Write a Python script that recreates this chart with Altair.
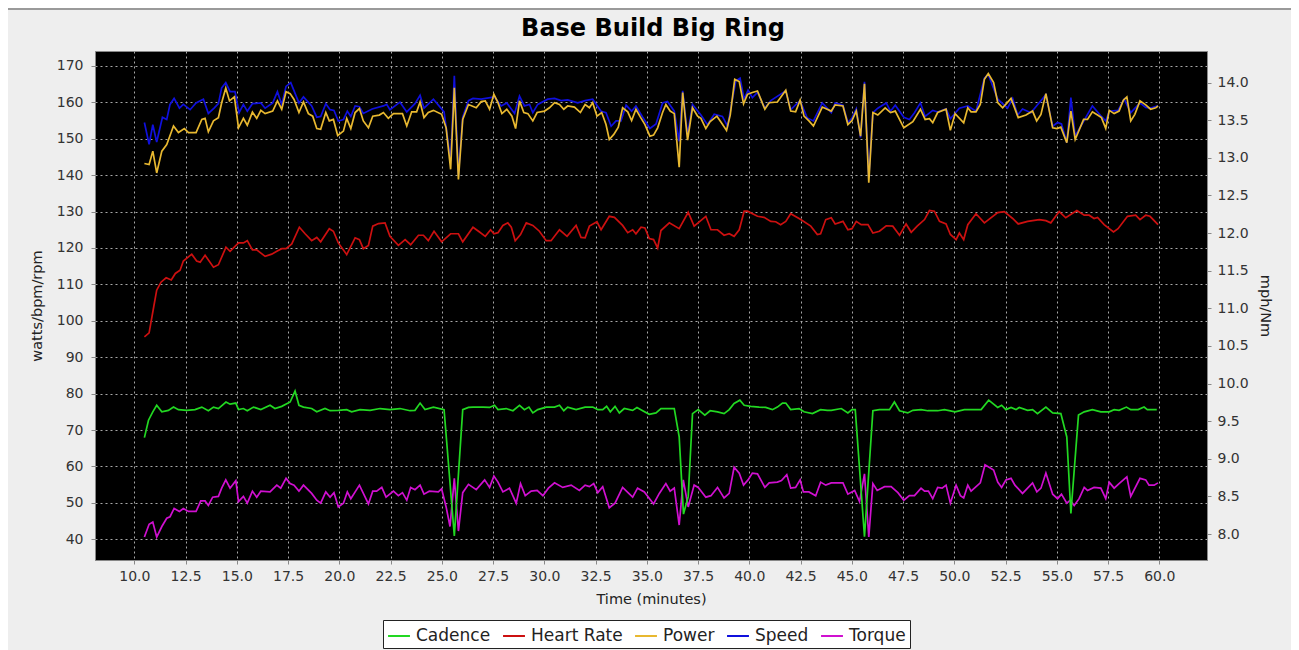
import altair as alt
import pandas as pd

# ---------------- data ----------------
chart_title = "Base Build Big Ring"
series_names = ["Cadence", "Heart Rate", "Power", "Speed", "Torque"]
series_colors = ["#22d822", "#cc1010", "#e8b830", "#1010dd", "#d010d0"]

power_t = [10.49, 10.72, 10.90, 11.09, 11.34, 11.58, 11.91, 12.15, 12.44, 12.64, 13.01, 13.29, 13.45, 13.61, 13.86, 14.10, 14.26, 14.46, 14.64, 14.88,
           15.08, 15.32, 15.51, 15.76, 15.97, 16.17, 16.38, 16.75, 16.98, 17.19, 17.40, 17.60, 17.79, 18.03, 18.25, 18.49, 18.70, 18.90, 19.09, 19.34,
           19.51, 19.71, 19.92, 20.20, 20.36, 20.56, 20.77, 20.98, 21.17, 21.42, 21.63, 21.95, 22.15, 22.39, 22.64, 23.08, 23.29, 23.53, 23.77, 23.94,
           24.13, 24.34, 24.59, 24.99, 25.21, 25.43, 25.61, 25.81, 26.02, 26.30,
           26.68, 26.92, 27.12, 27.33, 27.54, 27.74, 27.93, 28.17, 28.42, 28.60, 28.79, 29.00, 29.20, 29.44, 29.65, 30.01, 30.25, 30.50, 30.74, 30.95,
           31.14, 31.47, 31.76, 31.99, 32.20, 32.36, 32.57, 32.80, 33.01, 33.17, 33.39, 33.61, 33.82, 34.07, 34.26, 34.47, 34.68, 34.91, 35.15, 35.33,
           35.53, 35.77, 35.93, 36.14, 36.34, 36.58, 36.75, 36.99, 37.23, 37.48, 37.64, 37.88, 38.09, 38.42, 38.64, 38.89, 39.07, 39.29, 39.51, 39.72,
           39.91, 40.15, 40.40, 40.76, 40.97, 41.37, 41.78, 42.02, 42.26, 42.48, 42.67, 42.91, 43.13, 43.56,
           44.00, 44.19, 44.57, 44.81, 45.01, 45.22, 45.43, 45.62, 45.83, 46.03, 46.27, 46.63, 46.89, 47.12, 47.54, 47.98, 48.35, 48.58, 48.79, 48.95,
           49.19, 49.60, 49.81, 50.04, 50.46, 50.66, 50.82, 51.06, 51.27, 51.47, 51.66, 51.92, 52.12, 52.36, 52.77, 53.12, 53.50, 53.82, 54.02, 54.23,
           54.47, 54.80, 55.01, 55.20, 55.49, 55.69, 55.90, 56.31, 56.50, 56.74, 56.99, 57.18, 57.39, 57.56, 57.80, 58.04, 58.25, 58.42, 58.61, 58.81,
           59.06, 59.34, 59.58, 59.83, 59.94]
power_v = [143.2, 142.9, 146.6, 140.6, 146.6, 148.4, 153.5, 151.7, 152.8, 151.7, 151.7, 155.3, 155.6, 151.9, 154.9, 155.8, 159.9, 163.9, 160.4, 161.5,
           153.0, 155.6, 153.7, 157.3, 155.6, 157.8, 156.9, 157.6, 160.4, 158.1, 162.9, 162.4, 160.8, 157.2, 160.1, 156.9, 156.2, 152.8, 152.6, 157.2,
           154.9, 155.3, 150.9, 152.1, 155.6, 152.8, 157.2, 158.3, 154.9, 153.0, 156.2, 156.5, 157.2, 155.6, 156.9, 156.9, 153.5, 157.4, 157.4, 160.1,
           155.8, 157.2, 157.8, 156.7, 153.0, 141.6, 164.0, 138.8, 155.3, 159.4,
           158.5, 160.2, 160.4, 158.1, 162.2, 159.9, 156.9, 158.1, 156.2, 152.8, 160.4, 157.2, 156.9, 154.9, 157.2, 157.6, 158.5, 159.9, 159.4, 158.1,
           159.0, 158.7, 157.2, 159.4, 158.5, 159.9, 156.2, 157.2, 153.9, 149.8, 151.2, 153.2, 158.5, 157.4, 155.0, 158.1, 156.0, 153.9, 150.7, 151.0,
           153.0, 157.2, 159.4, 157.6, 156.9, 142.2, 162.7, 149.6, 158.5, 156.2, 155.6, 152.8, 154.7, 156.2, 154.4, 152.3, 156.5, 166.3, 165.7, 159.6,
           162.2, 162.7, 163.1, 158.1, 159.9, 160.1, 163.3, 157.6, 157.4, 160.6, 156.2, 154.9, 153.5, 158.7,
           157.6, 159.3, 159.0, 153.9, 155.0, 157.6, 150.7, 165.1, 137.9, 157.2, 156.5, 158.5, 157.2, 157.6, 153.0, 154.7, 158.1, 155.3, 155.5, 154.4,
           157.2, 158.1, 152.3, 156.9, 154.4, 158.5, 157.4, 157.4, 159.4, 166.3, 167.9, 165.4, 159.9, 158.5, 161.1, 155.8, 156.5, 157.6, 154.9, 156.7,
           162.4, 153.0, 152.8, 153.2, 148.9, 157.6, 149.8, 155.3, 155.3, 157.4, 156.5, 155.8, 152.8, 157.8, 156.9, 157.6, 160.6, 161.5, 154.9, 156.7,
           160.4, 159.3, 158.1, 158.5, 159.0]

speed_t = [10.49, 10.72, 10.90, 11.09, 11.37, 11.58, 11.74, 11.94, 12.20, 12.39, 12.72, 13.01, 13.37, 13.61, 13.89, 14.10, 14.26, 14.46, 14.67, 14.91,
           15.11, 15.32, 15.51, 15.76, 16.17, 16.38, 16.75, 16.98, 17.19, 17.40, 17.63, 18.03, 18.25, 18.65, 18.90, 19.09, 19.34, 19.55, 19.74, 19.95,
           20.20, 20.39, 20.56, 20.77, 20.98, 21.17, 21.60, 22.15, 22.31, 22.47, 22.96, 23.29, 23.69, 23.94, 24.13, 24.59, 25.11, 25.43, 25.61, 25.81,
           26.02, 26.30,
           26.52, 26.92, 27.57, 27.90, 28.17, 28.55, 28.79, 29.03, 29.28, 29.44, 29.68, 30.17, 30.50, 30.82, 31.14, 31.63, 31.99, 32.36, 32.77, 33.01,
           33.26, 33.50, 33.74, 33.99, 34.26, 34.47, 34.80, 35.15, 35.45, 35.77, 36.01, 36.34, 36.58, 36.75, 36.99, 37.23, 37.64, 37.96, 38.29, 38.69,
           38.94, 39.34, 39.55, 39.75, 39.94, 40.15, 40.40, 40.76, 41.05, 41.78, 42.02, 42.48, 42.83, 43.13, 43.56,
           44.00, 44.19, 44.57, 44.81, 45.01, 45.22, 45.43, 45.62, 45.83, 46.03, 46.27, 46.68, 46.89, 47.12, 47.54, 47.81, 48.06, 48.35, 48.58, 48.95,
           49.19, 49.60, 49.81, 50.25, 50.66, 51.06, 51.47, 51.66, 52.12, 52.60, 52.85, 53.09, 53.33, 53.74, 54.47, 54.80, 55.04, 55.23, 55.49, 55.69,
           55.90, 56.34, 56.74, 57.18, 57.39, 57.56, 57.99, 58.29, 58.61, 59.06, 59.34, 59.58, 59.94]
speed_v = [13.47, 13.18, 13.44, 13.21, 13.54, 13.51, 13.71, 13.79, 13.66, 13.71, 13.64, 13.73, 13.78, 13.59, 13.66, 13.72, 13.93, 14.00, 13.88, 13.88,
           13.60, 13.71, 13.62, 13.72, 13.73, 13.66, 13.73, 13.88, 13.71, 13.95, 14.00, 13.73, 13.81, 13.69, 13.54, 13.55, 13.72, 13.64, 13.63, 13.49,
           13.51, 13.62, 13.55, 13.69, 13.68, 13.59, 13.65, 13.69, 13.71, 13.64, 13.74, 13.61, 13.72, 13.83, 13.66, 13.78, 13.61, 12.96, 14.09, 12.78,
           13.54, 13.76,
           13.79, 13.78, 13.81, 13.69, 13.73, 13.59, 13.82, 13.69, 13.71, 13.60, 13.71, 13.78, 13.79, 13.76, 13.77, 13.73, 13.76, 13.78, 13.62, 13.60,
           13.42, 13.49, 13.49, 13.70, 13.62, 13.69, 13.54, 13.39, 13.45, 13.73, 13.75, 13.62, 13.22, 13.89, 13.31, 13.71, 13.57, 13.44, 13.58, 13.55,
           13.42, 14.02, 14.06, 13.78, 13.90, 13.80, 13.87, 13.66, 13.76, 13.89, 13.64, 13.76, 13.53, 13.49, 13.73,
           13.60, 13.73, 13.70, 13.47, 13.53, 13.65, 13.27, 14.01, 12.74, 13.60, 13.66, 13.73, 13.62, 13.70, 13.54, 13.51, 13.60, 13.73, 13.55, 13.63,
           13.61, 13.65, 13.52, 13.66, 13.69, 13.62, 14.06, 14.11, 13.78, 13.66, 13.79, 13.57, 13.65, 13.60, 13.84, 13.42, 13.47, 13.45, 13.20, 13.80,
           13.29, 13.50, 13.69, 13.55, 13.49, 13.62, 13.63, 13.78, 13.60, 13.73, 13.67, 13.66, 13.69]

hr_t = [10.49, 10.72, 10.95, 11.09, 11.30, 11.55, 11.80, 12.00, 12.23, 12.39, 12.80, 13.04, 13.21, 13.45, 13.86, 14.10, 14.47, 14.67, 15.08, 15.32,
        15.51, 15.76, 15.97, 16.38, 16.70, 16.95, 17.19, 17.40, 17.68, 18.05, 18.33, 18.65, 18.90, 19.09, 19.51, 19.71, 19.95, 20.36, 20.77, 20.98,
        21.17, 21.42, 21.63, 21.91, 22.23, 22.47, 22.88, 23.21, 23.48, 23.86, 24.10, 24.34, 24.62, 24.99, 25.43, 25.81, 26.02,
        26.52, 26.84, 27.12, 27.38, 27.54, 27.74, 27.98, 28.22, 28.39, 28.58, 28.84, 29.12, 29.44, 29.76, 30.09, 30.33, 30.74, 31.11, 31.55, 31.79,
        31.99, 32.20, 32.57, 32.77, 33.17, 33.42, 33.82, 34.07, 34.31, 34.47, 34.72, 34.91, 35.12, 35.33, 35.53, 35.69, 36.10, 36.58, 37.02, 37.31,
        37.88, 38.13, 38.45, 38.77, 39.02, 39.26, 39.51, 39.75, 39.91, 40.40, 40.72, 41.05, 41.29, 41.53, 41.78, 42.02, 42.51, 43.00, 43.32, 43.48,
        43.73,
        44.00, 44.19, 44.57, 44.81, 45.01, 45.22, 45.46, 45.79, 46.03, 46.35, 46.68, 47.00, 47.33, 47.65, 47.90, 48.19, 48.55, 48.79, 49.03, 49.28,
        49.60, 49.81, 50.09, 50.25, 50.46, 50.66, 51.06, 51.47, 52.12, 52.44, 52.85, 53.12, 53.58, 54.15, 54.47, 54.71, 55.12, 55.44, 55.98, 56.34,
        56.58, 56.82, 56.99, 57.31, 57.77, 57.99, 58.45, 58.85, 59.06, 59.34, 59.55, 59.94]
hr_v = [95.6, 96.7, 104.0, 108.4, 110.6, 111.8, 111.2, 113.0, 113.9, 116.4, 118.3, 116.4, 116.1, 118.0, 114.7, 115.4, 120.2, 119.1, 121.4, 121.4,
        122.0, 119.5, 119.5, 117.7, 118.3, 119.1, 119.8, 119.8, 121.1, 125.7, 123.9, 122.0, 122.9, 121.7, 125.3, 124.6, 121.4, 118.2, 122.8, 122.3,
        119.8, 120.7, 126.0, 126.7, 126.9, 123.2, 120.7, 122.3, 120.9, 123.5, 123.5, 122.0, 124.6, 121.7, 123.9, 123.9, 121.7,
        125.7, 124.4, 123.2, 125.0, 123.9, 124.2, 126.2, 126.9, 125.7, 122.0, 123.7, 126.9, 126.2, 124.6, 122.0, 122.0, 125.0, 123.2, 126.2, 122.9,
        122.8, 126.0, 127.2, 125.0, 128.7, 128.4, 126.2, 124.2, 125.0, 123.9, 125.7, 125.5, 122.6, 122.3, 120.0, 124.8, 126.9, 125.3, 129.8, 126.0,
        128.7, 125.0, 125.0, 123.5, 123.9, 123.2, 125.0, 130.1, 130.1, 128.7, 128.4, 127.3, 127.2, 126.4, 127.3, 129.4, 127.8, 126.0, 123.7, 123.9,
        127.8,
        128.3, 126.6, 127.3, 125.0, 125.3, 127.3, 126.4, 126.4, 124.1, 124.6, 126.1, 126.0, 123.5, 126.6, 124.3, 126.0, 127.8, 130.3, 130.1, 127.3,
        126.6, 123.7, 122.3, 124.1, 122.3, 126.4, 129.4, 126.9, 129.7, 130.0, 128.1, 126.6, 127.3, 127.8, 127.5, 126.9, 130.0, 128.3, 130.3, 129.0,
        129.0, 128.1, 128.4, 126.4, 124.4, 125.3, 128.7, 129.0, 127.8, 129.0, 128.7, 126.4]

cad_t = [10.49, 10.69, 10.90, 11.09, 11.34, 11.66, 11.91, 12.15, 12.56, 12.96, 13.29, 13.61, 13.86, 14.10, 14.47, 14.67, 14.95, 15.08, 15.32, 15.51,
         15.81, 16.17, 16.62, 16.86, 17.19, 17.60, 17.84, 18.03, 18.25, 18.65, 18.90, 19.30, 19.55, 19.95, 20.36, 20.60, 21.01, 21.50, 21.99, 22.47,
         22.96, 23.45, 23.69, 23.94, 24.18, 24.59, 25.11, 25.61, 26.02, 26.30,
         26.52, 27.01, 27.33, 27.57, 27.74, 28.14, 28.47, 28.79, 29.03, 29.25, 29.44, 29.68, 30.09, 30.50, 30.74, 30.95, 31.14, 31.55, 31.99, 32.36,
         32.61, 32.85, 33.04, 33.22, 33.45, 33.66, 33.90, 34.31, 34.52, 34.80, 35.12, 35.45, 35.69, 36.34, 36.58, 36.79, 37.02, 37.23, 37.51, 37.83,
         38.09, 38.45, 38.77, 39.02, 39.26, 39.54, 39.75, 40.07, 40.48, 40.80, 41.13, 41.37, 41.62, 41.78, 42.02, 42.43, 42.67, 43.08, 43.48, 43.81,
         44.00, 44.49, 44.81, 45.01, 45.17, 45.62, 46.03, 46.35, 46.84, 47.08, 47.33, 47.73, 47.98, 48.38, 48.71, 49.19, 49.52, 50.04, 50.49, 51.31,
         51.68, 52.12, 52.31, 52.52, 52.77, 53.01, 53.17, 53.58, 53.82, 54.06, 54.47, 54.80, 55.20, 55.49, 55.69, 56.06, 56.34, 56.74, 57.15, 57.56,
         57.80, 58.04, 58.40, 58.61, 58.97, 59.26, 59.42, 59.88]
cad_v = [67.9, 72.7, 75.0, 76.8, 75.0, 75.4, 76.3, 75.6, 75.4, 75.6, 76.3, 75.3, 76.3, 75.9, 77.7, 77.1, 77.4, 75.6, 75.9, 75.3,
         76.3, 75.6, 76.8, 75.9, 76.5, 77.7, 80.7, 76.8, 76.3, 75.9, 75.0, 75.9, 75.3, 75.4, 75.6, 75.0, 75.6, 75.4, 75.9, 75.6,
         75.9, 75.3, 75.4, 77.4, 75.6, 76.3, 75.6, 40.9, 75.6, 76.2,
         76.3, 76.3, 76.2, 76.8, 75.6, 75.9, 75.3, 76.8, 75.6, 76.3, 74.7, 75.6, 76.3, 76.3, 76.8, 75.3, 76.3, 75.6, 76.3, 76.3,
         75.6, 75.6, 76.5, 75.0, 76.5, 74.7, 75.9, 75.4, 76.2, 75.3, 74.3, 74.7, 75.9, 75.9, 68.1, 46.9, 51.7, 74.5, 75.6, 74.1,
         75.3, 75.0, 74.5, 75.6, 77.3, 78.2, 76.8, 76.5, 76.3, 76.2, 75.6, 76.3, 77.4, 77.4, 75.6, 75.9, 75.0, 74.5, 75.6, 75.4,
         75.4, 75.9, 74.7, 75.6, 75.6, 40.7, 75.3, 75.6, 75.6, 77.7, 75.3, 74.7, 75.4, 75.6, 75.3, 75.3, 75.6, 75.0, 75.6, 75.6,
         78.2, 76.2, 76.8, 75.6, 76.2, 75.6, 76.2, 75.4, 75.6, 74.5, 76.3, 74.7, 74.5, 68.1, 47.1, 74.1, 75.0, 75.6, 75.0, 75.0,
         75.6, 75.4, 76.3, 75.6, 75.6, 76.3, 75.6, 75.6]

torque_t = [10.49, 10.72, 10.90, 11.09, 11.34, 11.58, 11.74, 11.94, 12.20, 12.39, 12.64, 13.01, 13.24, 13.45, 13.61, 13.82, 14.10, 14.26, 14.46, 14.67,
            14.95, 15.08, 15.32, 15.51, 15.76, 15.97, 16.17, 16.62, 16.95, 17.14, 17.40, 17.60, 17.79, 18.03, 18.25, 18.65, 18.90, 19.09, 19.34, 19.55,
            19.74, 19.95, 20.20, 20.39, 20.56, 20.98, 21.42, 21.63, 21.82, 22.07, 22.28, 22.64, 22.88, 23.08, 23.29, 23.48, 23.69, 23.94, 24.13, 24.39,
            24.83, 24.99, 25.21, 25.40, 25.61, 25.81, 26.02, 26.30,
            26.68, 27.09, 27.33, 27.54, 27.74, 27.98, 28.30, 28.63, 28.84, 29.07, 29.36, 29.65, 29.93, 30.20, 30.50, 30.90, 31.31, 31.71, 31.99, 32.20,
            32.41, 32.61, 32.85, 33.17, 33.45, 33.82, 34.31, 34.55, 34.88, 35.33, 35.61, 35.93, 36.14, 36.34, 36.58, 36.78, 37.02, 37.31, 37.51, 37.88,
            38.13, 38.45, 38.77, 39.02, 39.26, 39.51, 39.72, 39.94, 40.15, 40.40, 40.76, 40.97, 41.37, 41.57, 41.83, 42.02, 42.26, 42.48, 42.64, 42.91,
            43.24, 43.48, 43.73,
            44.00, 44.57, 44.81, 45.14, 45.38, 45.62, 45.83, 46.03, 46.24, 46.60, 46.92, 47.25, 47.54, 47.81, 48.06, 48.38, 48.55, 48.74, 48.95, 49.19,
            49.41, 49.60, 49.81, 50.09, 50.30, 50.46, 50.66, 50.82, 51.27, 51.50, 51.92, 52.12, 52.31, 52.52, 52.77, 52.96, 53.33, 53.82, 54.03, 54.23,
            54.47, 54.80, 55.04, 55.23, 55.49, 55.66, 55.85, 56.09, 56.34, 56.50, 56.82, 57.15, 57.39, 57.56, 57.80, 58.04, 58.42, 58.61, 59.06, 59.34,
            59.50, 59.75, 59.94]
torque_v = [7.96, 8.13, 8.16, 7.96, 8.10, 8.21, 8.23, 8.34, 8.30, 8.34, 8.30, 8.30, 8.44, 8.44, 8.38, 8.49, 8.50, 8.61, 8.72, 8.61,
            8.71, 8.43, 8.50, 8.41, 8.57, 8.49, 8.57, 8.56, 8.65, 8.61, 8.74, 8.67, 8.65, 8.57, 8.65, 8.54, 8.45, 8.41, 8.56, 8.49,
            8.55, 8.36, 8.41, 8.56, 8.47, 8.65, 8.40, 8.57, 8.57, 8.62, 8.49, 8.57, 8.51, 8.55, 8.45, 8.62, 8.59, 8.65, 8.53, 8.57,
            8.56, 8.60, 8.36, 8.10, 8.74, 8.04, 8.55, 8.66,
            8.59, 8.72, 8.62, 8.77, 8.69, 8.56, 8.61, 8.41, 8.67, 8.51, 8.57, 8.58, 8.51, 8.61, 8.68, 8.62, 8.65, 8.58, 8.65, 8.63,
            8.67, 8.55, 8.63, 8.35, 8.41, 8.62, 8.49, 8.61, 8.56, 8.40, 8.54, 8.67, 8.57, 8.61, 8.12, 8.72, 8.36, 8.65, 8.62, 8.49,
            8.51, 8.62, 8.48, 8.54, 8.89, 8.81, 8.65, 8.72, 8.81, 8.80, 8.62, 8.68, 8.69, 8.71, 8.79, 8.61, 8.62, 8.72, 8.56, 8.56,
            8.51, 8.69, 8.65,
            8.68, 8.68, 8.53, 8.58, 8.43, 8.80, 7.96, 8.67, 8.58, 8.63, 8.63, 8.55, 8.45, 8.51, 8.51, 8.61, 8.57, 8.57, 8.47, 8.62,
            8.61, 8.65, 8.41, 8.65, 8.51, 8.48, 8.65, 8.57, 8.68, 8.92, 8.85, 8.69, 8.62, 8.72, 8.74, 8.65, 8.54, 8.68, 8.56, 8.61,
            8.81, 8.53, 8.47, 8.53, 8.41, 8.45, 8.38, 8.47, 8.62, 8.58, 8.62, 8.61, 8.47, 8.69, 8.61, 8.67, 8.76, 8.50, 8.74, 8.72,
            8.65, 8.65, 8.68]

x_ticks = [10.0, 12.5, 15.0, 17.5, 20.0, 22.5, 25.0, 27.5, 30.0, 32.5, 35.0, 37.5, 40.0, 42.5, 45.0, 47.5, 50.0, 52.5, 55.0, 57.5, 60.0]
left_ticks = [40, 50, 60, 70, 80, 90, 100, 110, 120, 130, 140, 150, 160, 170]
right_ticks = [8.0, 8.5, 9.0, 9.5, 10.0, 10.5, 11.0, 11.5, 12.0, 12.5, 13.0, 13.5, 14.0]

# ---------------- tables ----------------
def long(name, ts, vs):
    return pd.DataFrame({"time": ts, "value": vs, "series": name})

left_df = pd.concat([long("Cadence", cad_t, cad_v),
                     long("Heart Rate", hr_t, hr_v),
                     long("Power", power_t, power_v)], ignore_index=True)
right_df = pd.concat([long("Speed", speed_t, speed_v),
                      long("Torque", torque_t, torque_v)], ignore_index=True)

FONT = "DejaVu Sans"
W, H = 1112, 509
GRID = dict(grid=True, gridDash=[2, 3], gridColor="#a8a8a8", gridWidth=1)
AX = dict(domainColor="#888888", tickColor="#888888", tickSize=4,
          labelFont=FONT, labelFontSize=14, labelColor="#333333",
          titleFont=FONT, titleFontSize=14.5, titleFontWeight="normal", titleColor="#222222")

x_enc = alt.X("time:Q",
              scale=alt.Scale(domain=[8.08, 62.33], nice=False, zero=False),
              axis=alt.Axis(values=x_ticks, format=".1f", title="Time (minutes)",
                            labelPadding=5, titlePadding=9, **GRID, **AX))

color_enc = alt.Color("series:N",
                      scale=alt.Scale(domain=series_names, range=series_colors),
                      legend=alt.Legend(orient="none", legendX=288, legendY=569, direction="horizontal",
                                        columns=5, title=None, fillColor="white", strokeColor="#222222",
                                        padding=4, symbolType="stroke", symbolStrokeWidth=2, symbolSize=480,
                                        labelFont=FONT, labelFontSize=17, labelColor="#222222",
                                        columnPadding=8, labelOffset=5))

right_layer = alt.Chart(right_df).mark_line(strokeWidth=1.7).encode(
    x=x_enc,
    y=alt.Y("value:Q",
            scale=alt.Scale(domain=[7.655, 14.42], nice=False, zero=False),
            axis=alt.Axis(orient="right", values=right_ticks, format=".1f", title="mph/Nm", grid=False,
                          labelPadding=6, titlePadding=9, **AX)),
    color=color_enc,
    order=alt.Order("time:Q"),
)

left_layer = alt.Chart(left_df).mark_line(strokeWidth=1.7).encode(
    x=x_enc,
    y=alt.Y("value:Q",
            scale=alt.Scale(domain=[34.3, 174.1], nice=False, zero=False),
            axis=alt.Axis(orient="left", values=left_ticks, title="watts/bpm/rpm",
                          labelPadding=8, titlePadding=12, **GRID, **AX)),
    color=color_enc,
    order=alt.Order("time:Q"),
)

title_text = alt.Chart(alt.Data(values=[{"t": chart_title}])).mark_text(
    font=FONT, fontSize=24, fontWeight="bold", color="black", align="center", baseline="alphabetic"
).encode(text="t:N", x=alt.value(W / 2 + 2), y=alt.value(-15))

border = alt.Chart(alt.Data(values=[{"k": 1}])).mark_rule(color="#9a9a9a", strokeWidth=2).encode(
    x=alt.value(-87), x2=alt.value(W + 84), y=alt.value(-42)
)

chart = alt.layer(right_layer, left_layer, title_text, border).resolve_scale(
    y="independent"
).properties(
    width=W, height=H,
    autosize=alt.AutoSizeParams(type="none"),
    padding={"left": 87, "top": 43, "right": 84, "bottom": 90},
    background="#eeeeee",
).configure_view(
    fill="black", stroke="#888888", strokeWidth=1
)

chart.save("out.html", embed_options={"renderer": "svg", "actions": False})
